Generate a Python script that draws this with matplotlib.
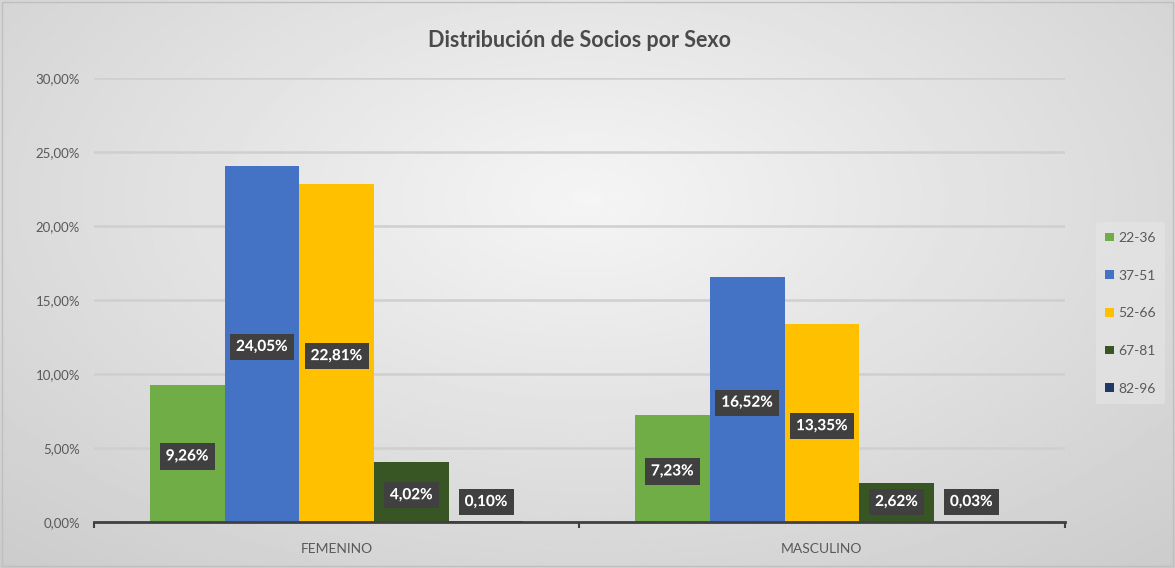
import numpy as np
import matplotlib.pyplot as plt
import matplotlib.patheffects as pe
from matplotlib.ticker import FuncFormatter

# datos
categorias = ["FEMENINO", "MASCULINO"]
grupos = ["22-36", "37-51", "52-66", "67-81", "82-96"]
femenino = [9.26, 24.05, 22.81, 4.02, 0.10]
masculino = [7.23, 16.52, 13.35, 2.62, 0.03]
colores = ["#70AD47", "#4472C4", "#FFC000", "#375623", "#203864"]

plt.rcParams['font.family'] = ['Lato', 'DejaVu Sans']

fig = plt.figure(figsize=(11.75, 5.68), dpi=100)

# fondo con degradado radial
bg = fig.add_axes([0, 0, 1, 1], zorder=-10)
yy, xx = np.mgrid[-1:1:200j, -1:1:400j]
r = np.sqrt(xx**2 * 0.8 + (yy + 0.3)**2 * 0.6)
bg.imshow(0.96 - 0.12 * r, cmap='gray', vmin=0, vmax=1, aspect='auto',
          extent=[0, 1, 0, 1])
bg.set_xlim(0, 1)
bg.set_ylim(0, 1)
bg.axis('off')
bg.add_patch(plt.Rectangle((0.002, 0.003), 0.996, 0.994, fill=False,
                           edgecolor='#bfbfbf', lw=1))

ax = fig.add_axes([0.080, 0.081, 0.826, 0.782])
ax.patch.set_alpha(0)

x = np.arange(len(categorias))
ancho = 0.154
datos = np.array([femenino, masculino]).T
for i, g in enumerate(grupos):
    pos = x + (i - 2) * ancho
    ax.bar(pos, datos[i] / 100, width=ancho, color=colores[i], label=g, zorder=3)
    for px, v in zip(pos, datos[i]):
        ypos = max(v / 2 - 0.2, 1.35) / 100
        ax.text(px, ypos, f"{v:.2f}%".replace('.', ','), ha='center', va='center',
                color='white', fontsize=11, fontweight='bold', zorder=5,
                bbox=dict(boxstyle='square,pad=0.4', fc='#404040', ec='none'),
                path_effects=[pe.withStroke(linewidth=0.5, foreground='#404040')])

ax.set_xlim(-0.5, 1.5)
ax.set_ylim(0, 0.30)
ax.set_yticks(np.arange(0, 0.301, 0.05))
ax.yaxis.set_major_formatter(FuncFormatter(lambda v, p: f"{v*100:.2f}%".replace('.', ',')))
ax.set_xticks(x)
ax.set_xticklabels(categorias)
ax.set_xticks([-0.5, 0.5, 1.5], minor=True)
ax.tick_params(axis='x', which='major', length=0, pad=15, labelsize=10, labelcolor='#595959')
ax.tick_params(axis='x', which='minor', length=4, width=1.5, color='#404040')
ax.tick_params(axis='y', length=0, pad=10, labelsize=9.5, labelcolor='#595959')
ax.grid(axis='y', color='#cfcfcf', lw=1.8, zorder=0)
for s in ['top', 'right', 'left']:
    ax.spines[s].set_visible(False)
ax.spines['bottom'].set_color('#404040')
ax.spines['bottom'].set_linewidth(2)
ax.spines['bottom'].set_zorder(4)

ax.set_title("Distribución de Socios por Sexo", fontsize=15.5, fontweight='bold',
             color='#4a4a4a', pad=22)

leg = ax.legend(loc='center left', bbox_to_anchor=(1.025, 0.47), frameon=True,
                fontsize=10, handlelength=0.6, handleheight=0.6, labelspacing=1.85,
                handletextpad=0.3, borderpad=0.7)
leg.get_frame().set_facecolor('#e6e6e6')
leg.get_frame().set_alpha(0.6)
leg.get_frame().set_edgecolor('none')
for t in leg.get_texts():
    t.set_color('#595959')

fig.savefig("out.png", dpi=100)
